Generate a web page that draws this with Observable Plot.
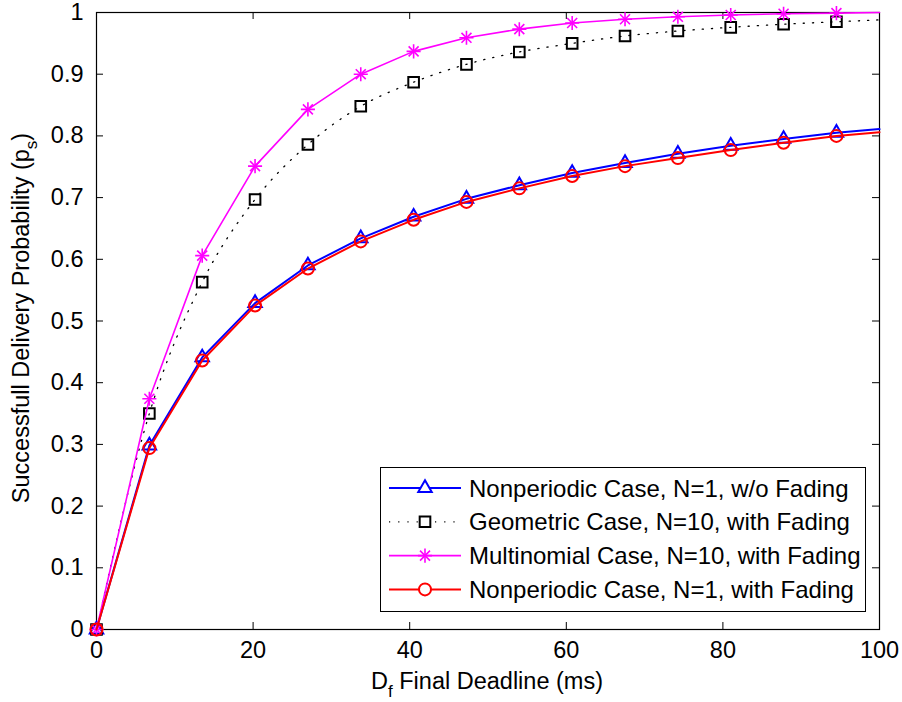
<!DOCTYPE html>
<html><head><meta charset="utf-8">
<script src="https://cdn.jsdelivr.net/npm/d3@7"></script>
<script src="https://cdn.jsdelivr.net/npm/@observablehq/plot@0.6"></script>
<style>html,body{margin:0;padding:0;background:#fff;} svg{display:block;}</style>
</head><body><div id="chart"></div><script>
// ---- data ----
const deadline = [0, 6.75, 13.5, 20.25, 27, 33.75, 40.5, 47.25, 54, 60.75, 67.5, 74.25, 81, 87.75, 94.5, 100];
const nonperiodicNoFading = [0, 0.298, 0.441, 0.529, 0.590, 0.634, 0.669, 0.698, 0.720, 0.740, 0.756, 0.771, 0.784, 0.795, 0.805, 0.811];
const geometricFading     = [0, 0.350, 0.563, 0.697, 0.786, 0.848, 0.887, 0.916, 0.936, 0.950, 0.962, 0.970, 0.976, 0.981, 0.985, 0.988];
const multinomialFading   = [0, 0.374, 0.606, 0.751, 0.843, 0.900, 0.937, 0.959, 0.973, 0.983, 0.989, 0.993, 0.996, 0.998, 0.999, 1.000];
const nonperiodicFading   = [0, 0.294, 0.436, 0.525, 0.585, 0.629, 0.664, 0.693, 0.715, 0.735, 0.751, 0.764, 0.777, 0.789, 0.800, 0.806];
const seriesNames = [
  "Nonperiodic Case, N=1, w/o Fading",
  "Geometric Case, N=10, with Fading",
  "Multinomial Case, N=10, with Fading",
  "Nonperiodic Case, N=1, with Fading"
];
const xTicks = [0, 20, 40, 60, 80, 100];
const yTicks = [0, 0.1, 0.2, 0.3, 0.4, 0.5, 0.6, 0.7, 0.8, 0.9, 1];
const xLabel = "Final Deadline (ms)";
const yLabel = "Successfull Delivery Probability (p";

// ---- styles ----
const FONT = "'Liberation Sans', Arial, Helvetica, sans-serif";
const styles = [
  {stroke: "#0000ff", width: 2, dash: null, symbol: "triangle", r: 5},
  {stroke: "#000000", width: 1.3, dash: "1.2,8", symbol: "square", r: 6},
  {stroke: "#ff00ff", width: 1.6, dash: null, symbol: "star", r: 4.6},
  {stroke: "#ff0000", width: 2, dash: null, symbol: "circle", r: 6}
];
const seriesValues = [nonperiodicNoFading, geometricFading, multinomialFading, nonperiodicFading];
const rows = seriesValues.map(vals => deadline.map((x, i) => ({x, y: vals[i], marker: i < deadline.length - 1})));

const W = 902, H = 702, mL = 96, mR = 23, mT = 12, mB = 73;
const innerW = W - mL - mR, innerH = H - mT - mB;

const marks = [
  Plot.frame({stroke: "#000", strokeWidth: 1.2}),
  Plot.tickX(xTicks, {x: d => d, insetTop: innerH - 7, stroke: "#000"}),
  Plot.tickX(xTicks, {x: d => d, insetBottom: innerH - 7, stroke: "#000"}),
  Plot.tickY(yTicks, {y: d => d, insetRight: innerW - 7, stroke: "#000"}),
  Plot.tickY(yTicks, {y: d => d, insetLeft: innerW - 7, stroke: "#000"}),
  Plot.axisX(xTicks, {tickSize: 0, tickPadding: 12, fontSize: 23.5, label: null, tickFormat: d => String(d)}),
  Plot.axisY(yTicks, {tickSize: 0, tickPadding: 13, fontSize: 23.5, label: null, tickFormat: d => String(+d.toFixed(1))})
];

rows.forEach((data, k) => {
  const s = styles[k];
  marks.push(Plot.line(data, {x: "x", y: "y", stroke: s.stroke, strokeWidth: s.width, strokeDasharray: s.dash, curve: k === 1 ? "monotone-x" : "linear"}));
  const md = data.filter(d => d.marker);
  if (s.symbol === "star") {
    marks.push(Plot.dot(md, {x: "x", y: "y", symbol: "plus", r: s.r, stroke: s.stroke, strokeWidth: 1.6, fill: "none"}));
    marks.push(Plot.dot(md, {x: "x", y: "y", symbol: "times", r: s.r, stroke: s.stroke, strokeWidth: 1.6, fill: "none"}));
  } else {
    marks.push(Plot.dot(md, {x: "x", y: "y", symbol: s.symbol, r: s.r, stroke: s.stroke, strokeWidth: 2, fill: "none"}));
  }
});

const chart = Plot.plot({
  width: W, height: H, marginLeft: mL, marginRight: mR, marginTop: mT, marginBottom: mB,
  style: {fontFamily: FONT, fontSize: "23px", color: "#000", background: "#fff", overflow: "visible"},
  x: {domain: [0, 100]},
  y: {domain: [0, 1]},
  marks
});
document.getElementById("chart").appendChild(chart);

// ---- axis titles and legend ----
const svg = d3.select(chart);
const xt = svg.append("text").attr("x", 487).attr("y", 689).attr("text-anchor", "middle")
  .attr("font-family", FONT).attr("font-size", 23.5).attr("fill", "#000");
xt.append("tspan").text("D");
xt.append("tspan").attr("dy", 8).attr("font-size", 17).text("f");
xt.append("tspan").attr("dy", -8).text(" " + xLabel);

const yt = svg.append("text").attr("transform", "translate(29,318) rotate(-90)").attr("text-anchor", "middle")
  .attr("font-family", FONT).attr("font-size", 23.5).attr("fill", "#000");
yt.append("tspan").text(yLabel);
yt.append("tspan").attr("dy", 8).attr("font-size", 17).text("s");
yt.append("tspan").attr("dy", -8).text(")");

const lg = svg.append("g");
lg.append("rect").attr("x", 380.5).attr("y", 467.5).attr("width", 485).attr("height", 144)
  .attr("fill", "#fff").attr("stroke", "#000").attr("stroke-width", 1);
const symMap = {triangle: d3.symbolTriangle, square: d3.symbolSquare, circle: d3.symbolCircle};
seriesNames.forEach((name, k) => {
  const s = styles[k];
  const cy = 488 + k * 33.8;
  lg.append("line").attr("x1", 389).attr("x2", 461).attr("y1", cy).attr("y2", cy)
    .attr("stroke", s.stroke).attr("stroke-width", s.width).attr("stroke-dasharray", s.dash);
  if (s.symbol === "star") {
    [d3.symbolPlus, d3.symbolTimes].forEach(t => {
      lg.append("path").attr("d", d3.symbol(t, Math.PI * s.r * s.r)()).attr("transform", `translate(425,${cy})`)
        .attr("fill", "none").attr("stroke", s.stroke).attr("stroke-width", 1.6);
    });
  } else {
    lg.append("path").attr("d", d3.symbol(symMap[s.symbol], Math.PI * s.r * s.r)()).attr("transform", `translate(425,${cy})`)
      .attr("fill", "#fff").attr("stroke", s.stroke).attr("stroke-width", 2);
  }
  lg.append("text").attr("x", 469).attr("y", cy).attr("dy", "0.36em").attr("text-anchor", "start")
    .attr("font-family", FONT).attr("font-size", 24).attr("fill", "#000").text(name);
});
</script></body></html>
